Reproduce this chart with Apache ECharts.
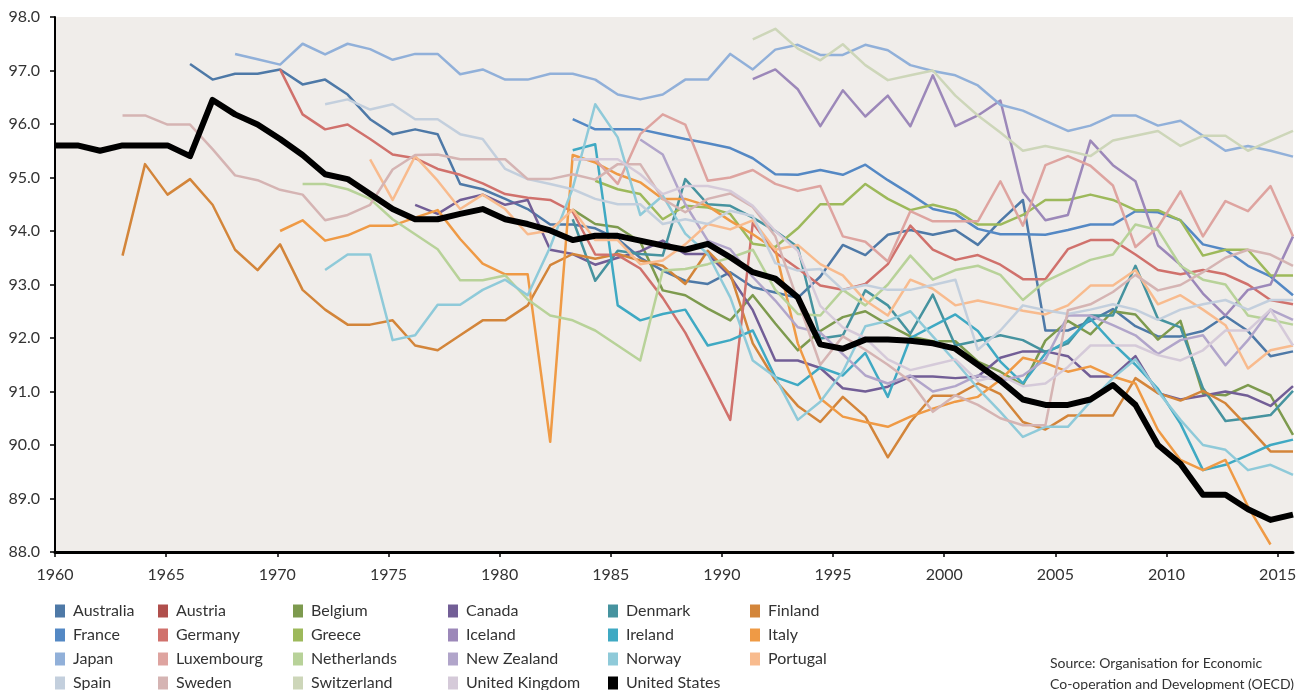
<!DOCTYPE html>
<html>
<head>
<meta charset="utf-8">
<title>OECD chart</title>
<script src="https://cdn.jsdelivr.net/npm/echarts@6/dist/echarts.min.js"></script>
<style>
  html, body { margin: 0; padding: 0; background: #fff; }
  #chart { width: 1309px; height: 690px; }
</style>
</head>
<body>
<div id="chart"></div>
<script>
  // years on the category axis the lines are drawn on
  const years = [];
  for (let y = 1960; y <= 2015; y++) years.push(y);
  const yearTicks = [1960, 1965, 1970, 1975, 1980, 1985, 1990, 1995, 2000, 2005, 2010, 2015];
  const valueTicks = [88, 89, 90, 91, 92, 93, 94, 95, 96, 97, 98];

  const names = ['Australia', 'Austria', 'Belgium', 'Canada', 'Denmark', 'Finland',
    'France', 'Germany', 'Greece', 'Iceland', 'Ireland', 'Italy',
    'Japan', 'Luxembourg', 'Netherlands', 'New Zealand', 'Norway', 'Portugal',
    'Spain', 'Sweden', 'Switzerland', 'United Kingdom', 'United States'];
  // first year of each country's values
  const starts = [1966, 1970, 1983, 1976, 1983, 1963,
    1983, 1970, 1984, 1991, 1983, 1970,
    1968, 1983, 1971, 1986, 1972, 1974,
    1972, 1963, 1991, 1983, 1960];

  const australia = [97.12, 96.83, 96.94, 96.94,
    97.02, 96.74, 96.83, 96.55, 96.09, 95.81, 95.9, 95.81, 94.88, 94.78,
    94.6, 94.41, 94.12, 94.12, 94.05, 93.85, 93.5, 93.26, 93.07, 93.01,
    93.23, 92.95, 92.85, 92.75, 93.15, 93.74, 93.55, 93.93, 94.02, 93.93,
    94.02, 93.74, 94.19, 94.58, 92.14, 92.14, 92.32, 92.54, 92.22, 92.03,
    92.03, 92.13, 92.41, 92.13, 91.66, 91.75];
  const austria = [];
  const belgium = [94.4, 94.13, 94.07, 93.8, 92.89, 92.8, 92.55,
    92.33, 92.8, 92.27, 91.77, 92.13, 92.39, 92.5, 92.25, 92.03, 91.94,
    91.94, 91.56, 91.37, 91.12, 91.95, 92.32, 92.07, 92.5, 92.44, 91.97,
    92.32, 90.96, 90.93, 91.12, 90.93, 90.19];
  const canada = [94.49, 94.32, 94.58, 94.68,
    94.49, 94.58, 93.65, 93.57, 93.37, 93.5, 93.62, 93.82, 93.57, 93.57,
    93.15, 92.52, 91.58, 91.58, 91.44, 91.06, 91.0, 91.09, 91.28, 91.28,
    91.25, 91.28, 91.63, 91.75, 91.75, 91.66, 91.28, 91.28, 91.66, 90.97,
    90.85, 90.92, 91.0, 90.92, 90.73, 91.1];
  const denmark = [94.22, 93.07, 93.63, 93.57, 93.54, 94.97, 94.5,
    94.47, 94.25, 94.0, 93.7, 91.99, 92.05, 92.89, 92.61, 92.08, 92.81,
    91.86, 91.95, 92.05, 91.96, 91.74, 91.9, 92.42, 92.42, 93.35, 92.36,
    92.2, 91.06, 90.45, 90.5, 90.56, 91.01];
  const finland = [93.54, 95.25, 94.68, 94.97, 94.49, 93.65, 93.27,
    93.75, 92.9, 92.53, 92.25, 92.25, 92.33, 91.86, 91.77, 92.05, 92.33,
    92.33, 92.61, 93.36, 93.57, 93.48, 93.57, 93.45, 93.35, 93.01, 93.63,
    93.2, 91.9, 91.21, 90.73, 90.43, 90.9, 90.53, 89.77, 90.43, 90.92,
    90.92, 91.15, 90.95, 90.43, 90.29, 90.55, 90.55, 90.55, 91.25, 90.97,
    90.83, 91.01, 90.78, 90.34, 89.88, 89.88];
  const france = [96.09, 95.9, 95.9, 95.9, 95.81, 95.72, 95.64,
    95.55, 95.36, 95.06, 95.05, 95.14, 95.05, 95.24, 94.95, 94.69, 94.41,
    94.32, 94.04, 93.94, 93.94, 93.93, 94.02, 94.12, 94.12, 94.37, 94.35,
    94.2, 93.75, 93.65, 93.35, 93.15, 92.8];
  const germany = [97.02, 96.18, 95.9, 95.99, 95.72, 95.43, 95.36, 95.16, 95.05, 94.89,
    94.69, 94.62, 94.58, 94.36, 93.56, 93.55, 93.3, 92.75, 92.1, 91.3,
    90.47, 94.15, 93.6, 93.3, 92.98, 92.9, 93.01, 93.38, 94.1, 93.65,
    93.46, 93.55, 93.37, 93.1, 93.1, 93.66, 93.83, 93.83, 93.56, 93.27,
    93.19, 93.27, 93.19, 93.0, 92.71, 92.63];
  const greece = [94.94, 94.78, 94.69, 94.22, 94.47, 94.44,
    94.32, 93.76, 93.7, 94.05, 94.5, 94.5, 94.88, 94.6, 94.39, 94.49,
    94.39, 94.12, 94.12, 94.3, 94.58, 94.58, 94.68, 94.58, 94.39, 94.39,
    94.2, 93.54, 93.65, 93.65, 93.17, 93.17];
  const iceland = [96.84, 97.02, 96.65, 95.96, 96.63, 96.14, 96.53, 95.96, 96.91,
    95.96, 96.16, 96.44, 94.73, 94.2, 94.3, 95.69, 95.23, 94.93, 93.73,
    93.37, 92.83, 92.42, 92.9, 93.0, 93.9];
  const ireland = [95.51, 95.62, 92.61, 92.33, 92.45, 92.53, 91.86,
    91.96, 92.14, 91.27, 91.12, 91.45, 91.3, 91.72, 90.9, 92.0, 92.22,
    92.44, 92.13, 91.56, 91.15, 91.71, 91.95, 92.36, 91.9, 91.5, 91.05,
    90.4, 89.53, 89.63, 89.81, 90.0, 90.1];
  const italy = [94.0, 94.2, 93.82, 93.92, 94.1, 94.1, 94.25, 94.39, 93.85, 93.39,
    93.19, 93.19, 90.06, 95.42, 95.28, 95.06, 94.91, 94.6, 94.6, 94.47,
    94.19, 93.94, 93.66, 91.9, 90.87, 90.53, 90.43, 90.34, 90.53, 90.68,
    90.81, 90.9, 91.22, 91.63, 91.53, 91.37, 91.47, 91.28, 91.15, 90.28,
    89.72, 89.53, 89.72, 88.85, 88.14];
  const japan = [97.31, 97.21,
    97.11, 97.5, 97.3, 97.5, 97.4, 97.2, 97.31, 97.31, 96.93, 97.02,
    96.83, 96.83, 96.94, 96.94, 96.83, 96.55, 96.46, 96.55, 96.83, 96.83,
    97.31, 97.02, 97.39, 97.48, 97.29, 97.29, 97.48, 97.38, 97.1, 96.99,
    96.91, 96.72, 96.36, 96.25, 96.06, 95.87, 95.97, 96.16, 96.16, 95.97,
    96.06, 95.78, 95.5, 95.59, 95.5, 95.39];
  const luxembourg = [95.34, 95.34, 94.88, 95.81, 96.18, 95.99, 94.94,
    95.0, 95.14, 94.88, 94.75, 94.84, 93.9, 93.8, 93.43, 94.37, 94.18,
    94.18, 94.18, 94.93, 94.1, 95.23, 95.4, 95.22, 94.85, 93.7, 94.07,
    94.74, 93.9, 94.56, 94.37, 94.84, 93.9];
  const netherlands = [94.88, 94.88, 94.78, 94.6, 94.22, 93.94, 93.66, 93.08, 93.08,
    93.17, 92.72, 92.42, 92.33, 92.14, 91.86, 91.58, 93.26, 93.29, 93.38,
    93.5, 93.65, 92.9, 92.45, 92.42, 92.9, 92.61, 93.0, 93.54, 93.09,
    93.27, 93.35, 93.18, 92.71, 93.06, 93.26, 93.46, 93.56, 94.12, 94.02,
    93.35, 93.09, 93.0, 92.42, 92.34, 92.25];
  const newZealand = [95.71, 95.43, 94.5, 93.82,
    93.66, 93.14, 92.7, 92.2, 92.1, 91.7, 91.3, 91.15, 91.3, 91.0,
    91.1, 91.3, 91.2, 91.3, 91.6, 92.42, 92.42, 92.24, 92.05, 91.7,
    91.96, 92.05, 91.49, 91.96, 92.53, 92.34];
  const norway = [93.27, 93.56, 93.56, 91.96, 92.05, 92.62, 92.62, 92.9,
    93.09, 92.8, 93.7, 94.8, 96.37, 95.75, 94.3, 94.66, 93.95, 93.57,
    92.76, 91.58, 91.27, 90.47, 90.81, 91.37, 92.22, 92.32, 92.5, 92.03,
    91.56, 91.06, 90.62, 90.15, 90.34, 90.34, 90.81, 91.25, 91.6, 91.0,
    90.47, 90.0, 89.91, 89.53, 89.63, 89.44];
  const portugal = [95.34, 94.58, 95.4, 94.94, 94.41, 94.68,
    94.41, 93.94, 94.01, 94.4, 93.83, 93.83, 93.38, 93.45, 93.75, 94.13,
    94.03, 94.2, 93.65, 93.74, 93.38, 93.17, 92.7, 92.42, 93.09, 92.92,
    92.61, 92.7, 92.61, 92.51, 92.44, 92.61, 92.98, 92.98, 93.27, 92.63,
    92.8, 92.53, 92.24, 91.43, 91.77, 91.86];
  const spain = [96.37, 96.46, 96.27, 96.37, 96.09, 96.09, 95.81, 95.72,
    95.16, 94.97, 94.88, 94.78, 94.6, 94.5, 94.5, 94.13, 94.22, 94.13,
    94.38, 94.28, 93.4, 93.26, 93.29, 92.9, 92.99, 92.9, 92.9, 92.99,
    93.09, 91.78, 92.14, 92.61, 92.52, 92.45, 92.53, 92.63, 92.53, 92.34,
    92.53, 92.63, 92.71, 92.53, 92.71, 92.71];
  const sweden = [96.16, 96.16, 95.99, 95.99, 95.53, 95.04, 94.95,
    94.77, 94.68, 94.2, 94.3, 94.49, 95.15, 95.42, 95.43, 95.34, 95.34,
    95.34, 94.97, 94.97, 95.06, 94.96, 95.25, 95.25, 94.6, 94.35, 94.6,
    94.7, 94.45, 93.9, 92.7, 91.5, 92.03, 91.78, 91.5, 91.19, 90.62,
    90.93, 90.75, 90.5, 90.37, 90.37, 92.52, 92.63, 92.86, 93.18, 92.89,
    92.99, 93.23, 93.5, 93.65, 93.56, 93.35];
  const switzerland = [97.58, 97.78, 97.41, 97.19, 97.49, 97.1, 96.82, 96.91, 97.0,
    96.53, 96.16, 95.84, 95.5, 95.59, 95.5, 95.4, 95.69, 95.78, 95.87,
    95.59, 95.78, 95.78, 95.5, 95.69, 95.87];
  const unitedKingdom = [95.34, 95.34, 95.34, 95.06, 94.69, 94.84, 94.84,
    94.75, 94.47, 94.0, 93.63, 92.6, 92.2, 92.0, 91.6, 91.4, 91.5,
    91.6, 91.2, 91.3, 91.1, 91.15, 91.46, 91.86, 91.86, 91.86, 91.68,
    91.58, 91.77, 92.14, 92.14, 92.53, 91.86];
  const unitedStates = [95.6, 95.6, 95.5, 95.6, 95.6, 95.6, 95.4, 96.45, 96.18, 95.99,
    95.72, 95.42, 95.06, 94.97, 94.69, 94.41, 94.22, 94.22, 94.32, 94.41,
    94.22, 94.13, 94.01, 93.83, 93.91, 93.91, 93.82, 93.73, 93.65, 93.76,
    93.51, 93.23, 93.11, 92.76, 91.88, 91.8, 91.97, 91.97, 91.95, 91.9,
    91.8, 91.5, 91.2, 90.85, 90.75, 90.75, 90.85, 91.12, 90.75, 90.0,
    89.65, 89.07, 89.07, 88.8, 88.6, 88.7];

  const values = [australia, austria, belgium, canada, denmark, finland,
    france, germany, greece, iceland, ireland, italy,
    japan, luxembourg, netherlands, newZealand, norway, portugal,
    spain, sweden, switzerland, unitedKingdom, unitedStates];

  const colors = ['#4e79a7', '#b04f4c', '#7d9a4e', '#725e96', '#46939f', '#d3853a',
    '#5488c4', '#d0716c', '#9db95b', '#9c88b9', '#3fa9c3', '#ef9a45',
    '#91b0d9', '#dea4a0', '#b8d299', '#b1a5ca', '#8fcad9', '#f8bb8e',
    '#c3cfdd', '#d5b4b3', '#cdd6b9', '#d5cad9', '#000000'];

  const font = 'Lato, "Open Sans", sans-serif';
  const chart = echarts.init(document.getElementById('chart'));

  // put each country's values on the full 1960-2015 category list
  const series = names.map(function (name, i) {
    const pad = [];
    for (let y = 1960; y < starts[i]; y++) pad.push(null);
    const isUS = name === 'United States';
    return {
      name: name,
      type: 'line',
      xAxisIndex: 1,
      data: pad.concat(values[i]),
      showSymbol: false,
      symbol: 'none',
      itemStyle: { color: colors[i] },
      lineStyle: { color: colors[i], width: isUS ? 6 : 2.5, join: 'round' },
      z: isUS ? 5 : 2,
      emphasis: { disabled: true }
    };
  });

  // legend columns, like the reference
  const columns = [
    ['Australia', 'France', 'Japan', 'Spain'],
    ['Austria', 'Germany', 'Luxembourg', 'Sweden'],
    ['Belgium', 'Greece', 'Netherlands', 'Switzerland'],
    ['Canada', 'Iceland', 'New Zealand', 'United Kingdom'],
    ['Denmark', 'Ireland', 'Norway', 'United States'],
    ['Finland', 'Italy', 'Portugal']
  ];
  const columnLeft = [55, 158, 293, 448, 608, 750];
  const legends = columns.map(function (col, i) {
    return {
      data: col,
      orient: 'vertical',
      left: columnLeft[i],
      top: 603,
      height: 120,
      icon: 'rect',
      itemWidth: 10,
      itemHeight: 13,
      itemGap: 8,
      selectedMode: false,
      padding: 0,
      textStyle: {
        fontSize: 16, lineHeight: 16, color: '#333', fontFamily: font,
        padding: [0, 0, 0, 3]
      }
    };
  });

  const option = {
    animation: false,
    backgroundColor: '#ffffff',
    grid: {
      left: 55, right: 16, top: 17, bottom: 138,
      show: true, backgroundColor: '#f0edea', borderWidth: 0
    },
    legend: legends,
    xAxis: [
      {
        type: 'value',
        min: 1960,
        max: 2015.69,
        interval: 5,
        axisLine: { show: true, onZero: false, lineStyle: { color: '#000', width: 3 } },
        axisTick: { show: true, length: 5, customValues: yearTicks, lineStyle: { color: '#000', width: 1.5 } },
        axisLabel: {
          customValues: yearTicks,
          fontSize: 16, color: '#333', fontFamily: font, margin: 15,
          formatter: function (v) { return String(v); }
        },
        splitLine: { show: false }
      },
      {
        type: 'category',
        data: years,
        boundaryGap: false,
        show: false
      }
    ],
    yAxis: {
      type: 'value',
      min: 88,
      max: 98,
      interval: 1,
      axisLine: { show: true, lineStyle: { color: '#000', width: 2 } },
      axisTick: { show: true, length: 5, customValues: valueTicks, lineStyle: { color: '#000', width: 1.5 } },
      axisLabel: {
        fontSize: 16, color: '#333', fontFamily: font, margin: 15,
        formatter: function (v) { return v.toFixed(1); }
      },
      splitLine: { show: false }
    },
    graphic: [{
      type: 'text',
      left: 1050,
      top: 653,
      style: {
        text: 'Source: Organisation for Economic\nCo-operation and Development (OECD)',
        fontSize: 14,
        lineHeight: 21,
        fill: '#333',
        fontFamily: font
      }
    }],
    series: series
  };

  chart.setOption(option);
</script>
</body>
</html>
